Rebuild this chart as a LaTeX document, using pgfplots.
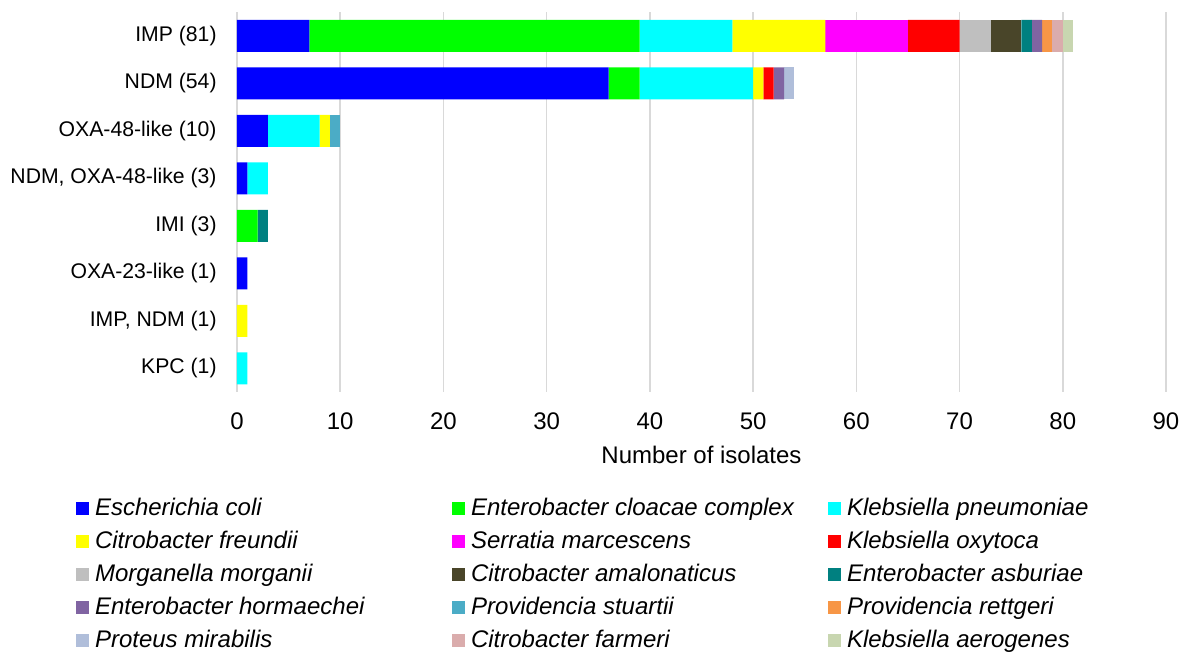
\documentclass[border=0pt]{standalone}
\usepackage{fontspec}
\setmainfont{Liberation Sans}
\usepackage{pgfplots}
\usepackage{pgfplotstable}
\pgfplotsset{compat=1.18}

% colours
\definecolor{cEc}{RGB}{0,0,255}
\definecolor{cEcl}{RGB}{0,255,0}
\definecolor{cKp}{RGB}{0,255,255}
\definecolor{cCf}{RGB}{255,255,0}
\definecolor{cSm}{RGB}{255,0,255}
\definecolor{cKo}{RGB}{255,0,0}
\definecolor{cMm}{RGB}{191,191,191}
\definecolor{cCa}{RGB}{73,69,41}
\definecolor{cEas}{RGB}{0,128,128}
\definecolor{cEh}{RGB}{128,100,162}
\definecolor{cPs}{RGB}{75,172,198}
\definecolor{cPr}{RGB}{247,150,70}
\definecolor{cPm}{RGB}{176,190,218}
\definecolor{cCfa}{RGB}{218,172,172}
\definecolor{cKa}{RGB}{200,214,176}
\definecolor{gridc}{RGB}{217,217,217}

% rows: IMP, NDM, OXA-48-like, NDM+OXA-48-like, IMI, OXA-23-like, IMP+NDM, KPC
\pgfplotstableread{
y Ec Ecl Kp Cf Sm Ko Mm Ca Eas Eh Ps Pr Pm Cfa Ka
0 7  32  9  9  8  5  3  3  1   1  0  1  0  1   1
1 36 3   11 1  0  1  0  0  0   1  0  0  1  0   0
2 3  0   5  1  0  0  0  0  0   0  1  0  0  0   0
3 1  0   2  0  0  0  0  0  0   0  0  0  0  0   0
4 0  2   0  0  0  0  0  0  1   0  0  0  0  0   0
5 1  0   0  0  0  0  0  0  0   0  0  0  0  0   0
6 0  0   0  1  0  0  0  0  0   0  0  0  0  0   0
7 0  0   1  0  0  0  0  0  0   0  0  0  0  0   0
}\isolates

\newcommand{\lent}[1]{\makebox[181.5pt][l]{\hspace{3pt}\textit{#1}}}

\begin{document}
\begin{tikzpicture}[font=\fontsize{12}{14}\selectfont]
\begin{axis}[
  at={(0,0)}, anchor=south west,
  scale only axis,
  width=464.5pt, height=190pt,
  xbar stacked, bar width=16pt,
  xmin=0, xmax=90, xtick={0,10,...,90},
  ymin=-0.5, ymax=7.5, y dir=reverse,
  ytick={0,...,7},
  yticklabels={IMP (81), NDM (54), OXA-48-like (10), {NDM, OXA-48-like (3)},
    IMI (3), OXA-23-like (1), {IMP, NDM (1)}, KPC (1)},
  axis lines*=left,
  x axis line style={draw=none},
  y axis line style={draw=gridc, line width=1pt, -},
  major tick length=0pt,
  xmajorgrids,
  grid style={draw=gridc, line width=0.75pt},
  /pgf/number format/assume math mode=true,
  xticklabel style={inner sep=0pt, anchor=north, yshift=-10pt},
  yticklabel style={inner sep=0pt, anchor=east, xshift=-10pt,
    font=\fontsize{10.6}{12.5}\selectfont},
  xlabel={Number of isolates},
  xlabel style={at={(axis description cs:0.5,0)}, anchor=north, inner sep=0pt, yshift=-27pt},
  legend columns=3,
  legend cell align=left,
  legend style={at={(axis description cs:-0.1733,-0.2763)}, anchor=north west,
    draw=none, inner sep=0pt, outer sep=0pt, row sep=4.5pt, column sep=0pt,
    nodes={inner sep=0pt, text height=9pt, text depth=3pt}},
  legend image code/.code={\fill[#1] (0pt,-3pt) rectangle (6.5pt,3.5pt);},
  every axis plot/.append style={draw=none},
]
\addplot[fill=cEc]  table[x=Ec,  y=y] {\isolates}; \addlegendentry{\lent{Escherichia coli}}
\addplot[fill=cEcl] table[x=Ecl, y=y] {\isolates}; \addlegendentry{\lent{Enterobacter cloacae complex}}
\addplot[fill=cKp]  table[x=Kp,  y=y] {\isolates}; \addlegendentry{\lent{Klebsiella pneumoniae}}
\addplot[fill=cCf]  table[x=Cf,  y=y] {\isolates}; \addlegendentry{\lent{Citrobacter freundii}}
\addplot[fill=cSm]  table[x=Sm,  y=y] {\isolates}; \addlegendentry{\lent{Serratia marcescens}}
\addplot[fill=cKo]  table[x=Ko,  y=y] {\isolates}; \addlegendentry{\lent{Klebsiella oxytoca}}
\addplot[fill=cMm]  table[x=Mm,  y=y] {\isolates}; \addlegendentry{\lent{Morganella morganii}}
\addplot[fill=cCa]  table[x=Ca,  y=y] {\isolates}; \addlegendentry{\lent{Citrobacter amalonaticus}}
\addplot[fill=cEas] table[x=Eas, y=y] {\isolates}; \addlegendentry{\lent{Enterobacter asburiae}}
\addplot[fill=cEh]  table[x=Eh,  y=y] {\isolates}; \addlegendentry{\lent{Enterobacter hormaechei}}
\addplot[fill=cPs]  table[x=Ps,  y=y] {\isolates}; \addlegendentry{\lent{Providencia stuartii}}
\addplot[fill=cPr]  table[x=Pr,  y=y] {\isolates}; \addlegendentry{\lent{Providencia rettgeri}}
\addplot[fill=cPm]  table[x=Pm,  y=y] {\isolates}; \addlegendentry{\lent{Proteus mirabilis}}
\addplot[fill=cCfa] table[x=Cfa, y=y] {\isolates}; \addlegendentry{\lent{Citrobacter farmeri}}
\addplot[fill=cKa]  table[x=Ka,  y=y] {\isolates}; \addlegendentry{\lent{Klebsiella aerogenes}}
\end{axis}
\pgfresetboundingbox
\useasboundingbox (-118.5pt,-133.5pt) rectangle (476pt,196pt);
\end{tikzpicture}
\end{document}
